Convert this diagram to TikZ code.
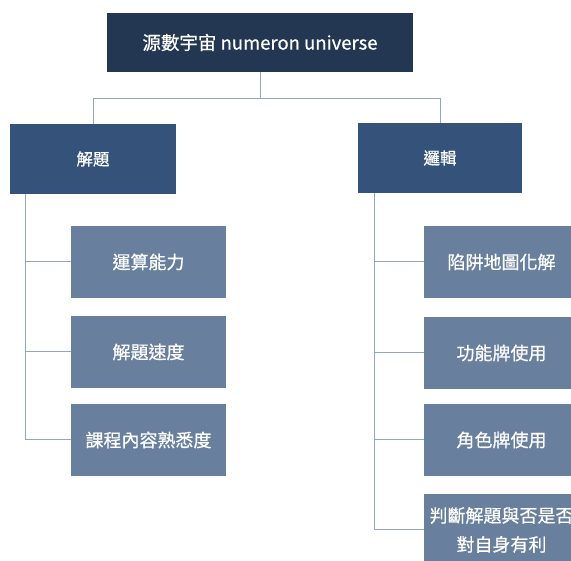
\documentclass[tikz,border=0pt]{standalone}
\usepackage{fontspec}
\setmainfont{Noto Sans CJK TC}[FakeBold=0.6]
\usetikzlibrary{calc}
\definecolor{topc}{HTML}{243752}
\definecolor{midc}{HTML}{34527A}
\definecolor{lowc}{HTML}{687F9D}
\definecolor{linec}{HTML}{8FA6C4}
\begin{document}
\begin{tikzpicture}[x=1pt,y=-1pt,
  topbox/.style={rectangle,fill=topc,text=white,minimum width=306pt,minimum height=59pt,inner sep=0pt,font=\fontsize{18.5}{22}\selectfont},
  midbox/.style={rectangle,fill=midc,text=white,minimum width=166pt,minimum height=70pt,inner sep=0pt,font=\fontsize{16.5}{19}\selectfont},
  lowbox/.style={rectangle,fill=lowc,text=white,minimum width=155pt,minimum height=72pt,inner sep=0pt,align=center,font=\fontsize{18}{29}\selectfont},
  conn/.style={draw=linec,line width=1pt}]
\useasboundingbox (0,0) rectangle (571,561);
\clip (0,0) rectangle (571,561);
\node[topbox] (top) at (260,42.5) {源數宇宙 numeron universe};
\node[midbox] (L) at (93,159) {解題};
\node[midbox,minimum width=164pt] (R) at (440,158) {邏輯};
\node[lowbox] (L1) at (148.5,262) {運算能力};
\node[lowbox] (L2) at (148.5,352) {解題速度};
\node[lowbox] (L3) at (148.5,440) {課程內容熟悉度};
\node[lowbox] (R1) at (501.5,262) {陷阱地圖化解};
\node[lowbox] (R2) at (501.5,353) {功能牌使用};
\node[lowbox] (R3) at (501.5,440) {角色牌使用};
\node[lowbox] (R4) at (501.5,530) {判斷解題與否是否\\對自身有利};
\draw[conn] (top.south) -- ++(0,26) coordinate (hub) -| (L.north);
\draw[conn] (hub) -| (R.north);
\draw[conn] ([xshift=16pt]L.south west) |- (L3.west);
\draw[conn] ([xshift=16pt]L.south west) |- (L1.west);
\draw[conn] ([xshift=16pt]L.south west) |- (L2.west);
\draw[conn] ([xshift=17pt]R.south west) |- (R4.west);
\draw[conn] ([xshift=17pt]R.south west) |- (R1.west);
\draw[conn] ([xshift=17pt]R.south west) |- (R2.west);
\draw[conn] ([xshift=17pt]R.south west) |- (R3.west);
\end{tikzpicture}
\end{document}
